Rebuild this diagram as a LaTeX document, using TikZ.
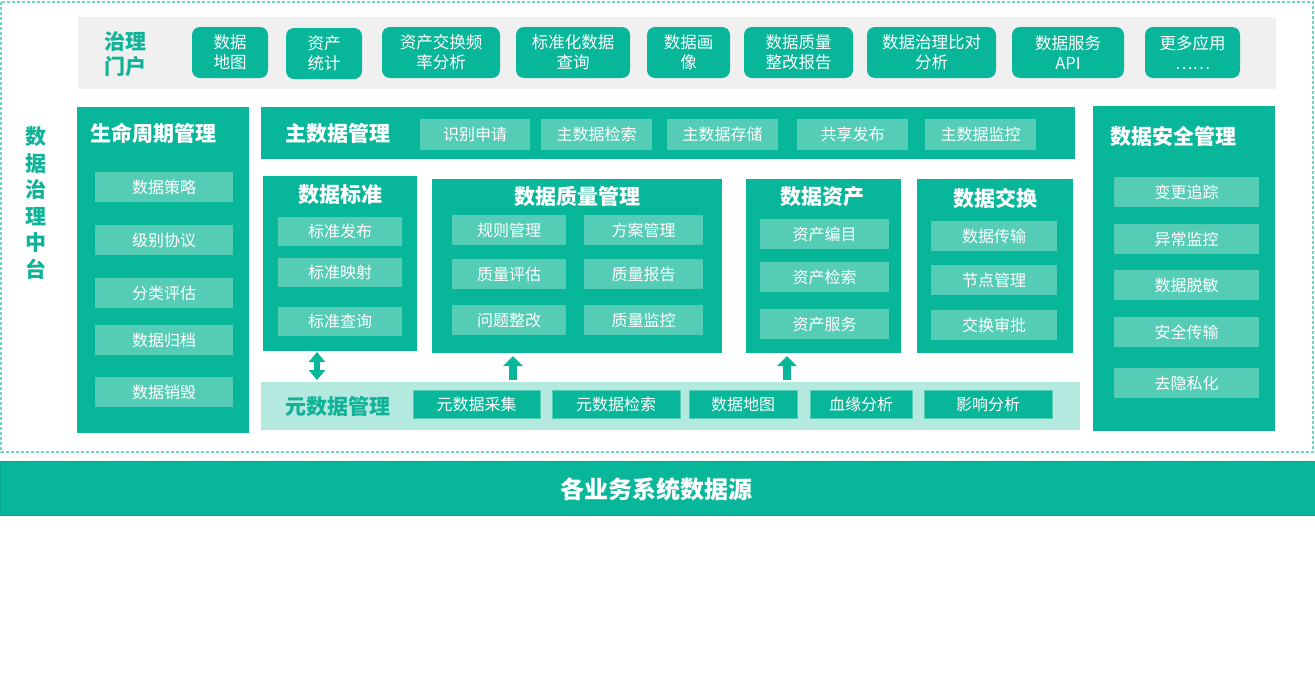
\documentclass[tikz,border=0pt]{standalone}
\usepackage{fontspec}
\setmainfont{Noto Sans CJK SC}
\usetikzlibrary{arrows.meta}
\definecolor{teal1}{HTML}{08B69A}
\definecolor{teallt}{HTML}{55CDB6}
\definecolor{metabg}{HTML}{B3E9DF}
\definecolor{graybg}{HTML}{F0F0F0}
\definecolor{tealtxt}{HTML}{10B398}
\definecolor{dashc}{HTML}{6FD6C4}
\definecolor{teald}{HTML}{05A88D}
\tikzset{
  rect/.style={anchor=north west, inner sep=0pt, outer sep=0pt},
  panel/.style={rect, fill=teal1},
  sub/.style={rect, fill=teallt, text=white, font=\fontsize{16}{18}\selectfont},
  msub/.style={rect, fill=teal1, draw=teallt, line width=0.6pt, text=white, font=\fontsize{16}{18}\selectfont},
  btn/.style={rect, fill=teal1, rounded corners=8pt, text=white, align=center, font=\fontsize{16.5}{20}\selectfont},
  ttl/.style={inner sep=0pt, text=white, font=\fontsize{21}{24}\selectfont\bfseries},
  tttl/.style={inner sep=0pt, text=tealtxt, font=\fontsize{21}{24}\selectfont\bfseries},
  dblarrow/.style={teal1, line width=6pt, {Triangle[width=16pt,length=10pt]}-{Triangle[width=16pt,length=10pt]}},
  uparrow/.style={teal1, line width=8pt, -{Triangle[width=19pt,length=10pt]}},
}
\begin{document}
\begin{tikzpicture}[x=1pt,y=-1pt]
\useasboundingbox (0,0) rectangle (1315,697);
% outer dashed frame
\draw[dashc, line width=1.2pt, dash pattern=on 3pt off 2pt] (1,2) rectangle (1313,452);
% vertical label
\node[tttl, align=center, font=\fontsize{21}{26.5}\selectfont\bfseries] (vlabel) at (36,203) {数\\据\\治\\理\\中\\台};
% portal band
\node[rect, fill=graybg, minimum width=1198pt, minimum height=72pt] (portal) at (78,17) {};
\node[inner sep=0pt, text=tealtxt, align=center, font=\fontsize{21}{25}\selectfont\bfseries] (portalt) at (125,54.5) {治理\\门户};
\node[btn, minimum width=76pt, minimum height=51pt] (b1) at (192,27) {数据\\地图};
\node[btn, minimum width=76pt, minimum height=51pt] (b2) at (286,28) {资产\\统计};
\node[btn, minimum width=118pt, minimum height=51pt] (b3) at (382,27) {资产交换频\\率分析};
\node[btn, minimum width=114pt, minimum height=51pt] (b4) at (516,27) {标准化数据\\查询};
\node[btn, minimum width=83pt, minimum height=51pt] (b5) at (647,27) {数据画\\像};
\node[btn, minimum width=109pt, minimum height=51pt] (b6) at (744,27) {数据质量\\整改报告};
\node[btn, minimum width=129pt, minimum height=51pt] (b7) at (867,27) {数据治理比对\\分析};
\node[btn, minimum width=112pt, minimum height=51pt] (b8) at (1012,27) {数据服务\\API};
\node[btn, minimum width=95pt, minimum height=51pt] (b9) at (1145,27) {更多应用\\……};
% lifecycle panel
\node[panel, minimum width=172pt, minimum height=326pt] (life) at (77,107) {};
\node[ttl, anchor=west] (lifet) at (90,133) {生命周期管理};
\node[sub, minimum width=138pt, minimum height=30pt] (l1) at (95,172) {数据策略};
\node[sub, minimum width=138pt, minimum height=30pt] (l2) at (95,225) {级别协议};
\node[sub, minimum width=138pt, minimum height=30pt] (l3) at (95,278) {分类评估};
\node[sub, minimum width=138pt, minimum height=30pt] (l4) at (95,325) {数据归档};
\node[sub, minimum width=138pt, minimum height=30pt] (l5) at (95,377) {数据销毁};
% master data bar
\node[panel, minimum width=814pt, minimum height=52pt] (master) at (261,107) {};
\node[ttl, anchor=west] (mastert) at (285,133) {主数据管理};
\node[sub, minimum width=110pt, minimum height=31pt] (m1) at (420,119) {识别申请};
\node[sub, minimum width=111pt, minimum height=31pt] (m2) at (541,119) {主数据检索};
\node[sub, minimum width=111pt, minimum height=31pt] (m3) at (667,119) {主数据存储};
\node[sub, minimum width=111pt, minimum height=31pt] (m4) at (797,119) {共享发布};
\node[sub, minimum width=111pt, minimum height=31pt] (m5) at (925,119) {主数据监控};
% security panel
\node[panel, minimum width=182pt, minimum height=325pt] (sec) at (1093,106) {};
\node[ttl, anchor=west] (sect) at (1110,136) {数据安全管理};
\node[sub, minimum width=145pt, minimum height=30pt] (s1) at (1114,177) {变更追踪};
\node[sub, minimum width=145pt, minimum height=30pt] (s2) at (1114,224) {异常监控};
\node[sub, minimum width=145pt, minimum height=30pt] (s3) at (1114,270) {数据脱敏};
\node[sub, minimum width=145pt, minimum height=30pt] (s4) at (1114,317) {安全传输};
\node[sub, minimum width=145pt, minimum height=30pt] (s5) at (1114,368) {去隐私化};
% data standard
\node[panel, minimum width=154pt, minimum height=175pt] (std) at (263,176) {};
\node[ttl] (stdt) at (340,195) {数据标准};
\node[sub, minimum width=124pt, minimum height=29pt] (st1) at (278,217) {标准发布};
\node[sub, minimum width=124pt, minimum height=29pt] (st2) at (278,258) {标准映射};
\node[sub, minimum width=124pt, minimum height=29pt] (st3) at (278,307) {标准查询};
% quality
\node[panel, minimum width=290pt, minimum height=174pt] (qual) at (432,179) {};
\node[ttl] (qualt) at (577,196) {数据质量管理};
\node[sub, minimum width=114pt, minimum height=30pt] (q1) at (452,215) {规则管理};
\node[sub, minimum width=119pt, minimum height=30pt] (q2) at (584,215) {方案管理};
\node[sub, minimum width=114pt, minimum height=30pt] (q3) at (452,259) {质量评估};
\node[sub, minimum width=119pt, minimum height=30pt] (q4) at (584,259) {质量报告};
\node[sub, minimum width=114pt, minimum height=30pt] (q5) at (452,305) {问题整改};
\node[sub, minimum width=119pt, minimum height=30pt] (q6) at (584,305) {质量监控};
% asset
\node[panel, minimum width=155pt, minimum height=174pt] (asset) at (746,179) {};
\node[ttl] (assett) at (822,197) {数据资产};
\node[sub, minimum width=129pt, minimum height=30pt] (a1) at (760,219) {资产编目};
\node[sub, minimum width=129pt, minimum height=30pt] (a2) at (760,262) {资产检索};
\node[sub, minimum width=129pt, minimum height=30pt] (a3) at (760,309) {资产服务};
% exchange
\node[panel, minimum width=156pt, minimum height=174pt] (exch) at (917,179) {};
\node[ttl] (excht) at (995,198) {数据交换};
\node[sub, minimum width=126pt, minimum height=30pt] (e1) at (931,221) {数据传输};
\node[sub, minimum width=126pt, minimum height=30pt] (e2) at (931,265) {节点管理};
\node[sub, minimum width=126pt, minimum height=30pt] (e3) at (931,310) {交换审批};
% metadata band
\node[rect, fill=metabg, minimum width=819pt, minimum height=48pt] (meta) at (261,382) {};
\node[tttl, anchor=west] (metat) at (285,406) {元数据管理};
\node[msub, minimum width=127pt, minimum height=28pt] (md1) at (413,390) {元数据采集};
\node[msub, minimum width=128pt, minimum height=28pt] (md2) at (552,390) {元数据检索};
\node[msub, minimum width=108pt, minimum height=28pt] (md3) at (689,390) {数据地图};
\node[msub, minimum width=102pt, minimum height=28pt] (md4) at (810,390) {血缘分析};
\node[msub, minimum width=128pt, minimum height=28pt] (md5) at (924,390) {影响分析};
% arrows
\coordinate (ax1) at (317,0);
\coordinate (ax2) at (513,0);
\coordinate (ax3) at (787,0);
\draw[dblarrow, shorten <=1pt, shorten >=2pt] (std.south -| ax1) -- (meta.north -| ax1);
\draw[uparrow, shorten <=2pt, shorten >=3pt] (meta.north -| ax2) -- (qual.south -| ax2);
\draw[uparrow, shorten <=2pt, shorten >=3pt] (meta.north -| ax3) -- (asset.south -| ax3);
% bottom source band
\node[rect, fill=teal1, draw=teald, line width=1pt, minimum width=1315pt, minimum height=54pt] (src) at (0,461) {};
\node[ttl, font=\fontsize{24}{26}\selectfont\bfseries] (srct) at (656,489) {各业务系统数据源};
\end{tikzpicture}
\end{document}
